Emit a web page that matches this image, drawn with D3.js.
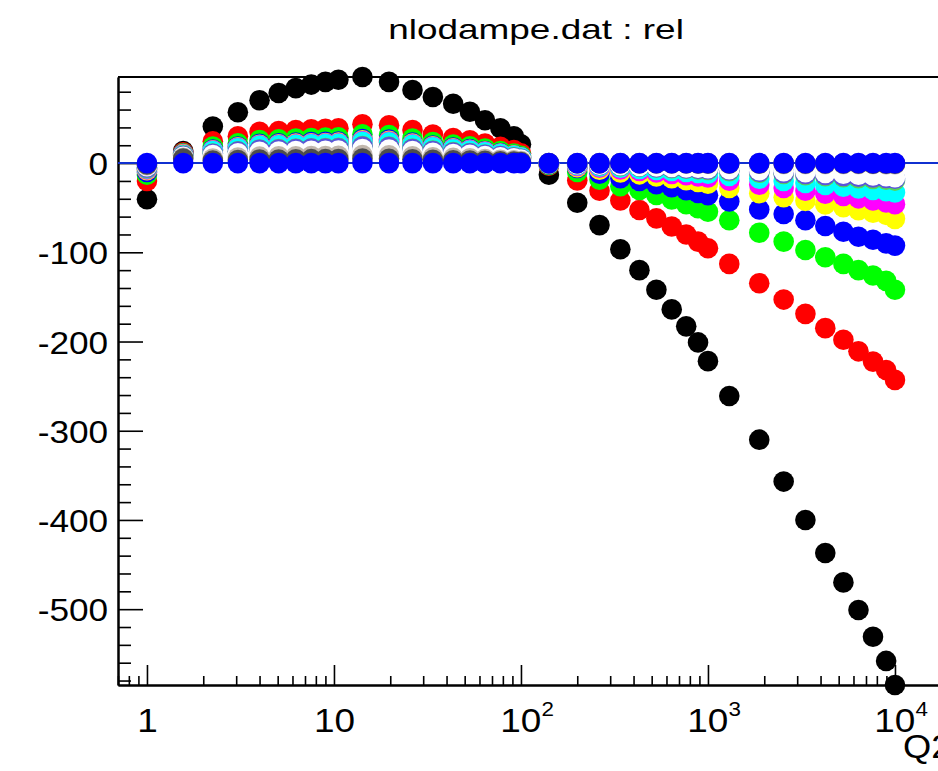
<!DOCTYPE html>
<html><head><meta charset="utf-8">
<script src="https://cdn.jsdelivr.net/npm/d3@7"></script>
<style>html,body{margin:0;padding:0;background:#fff;overflow:hidden}</style>
</head><body><svg id="c" width="938" height="771"></svg>
<script>
// ---- data ----
const q2 = [1, 1.5625, 2.25, 3.0625, 4, 5.0625, 6.25, 7.5625, 9, 10.5625,
  14.2, 19.7, 26.3, 33.8, 43.4, 53.3, 64.2, 77.6, 91.7, 100,
  141, 200, 263, 340, 430, 530, 640, 765, 885, 1000,
  1300, 1880, 2540, 3320, 4240, 5300, 6380, 7630, 8970, 10000];

const s1 = [-40.5, 13.5, 41, 57, 70.5, 78.5, 84, 88, 91, 93.5,
  96.5, 91, 82, 74, 66.5, 57.5, 48, 39, 30, 21,
  -13, -44.5, -69.5, -96.5, -120, -142, -164, -183, -201, -222,
  -261, -310, -357, -400, -437, -470, -501, -531, -558, -585];
const s2 = [-20, 12, 24.5, 30, 35, 36, 37, 38, 38.5, 39,
  43.5, 42.4, 37, 32, 28, 25.5, 22, 18.3, 14.6, 11,
  -3, -19.5, -31, -42, -52.6, -62, -71, -80, -88, -95.5,
  -113, -134.7, -153, -169, -185, -198, -211, -222.5, -232, -243];
const s3 = [-13, 11, 18.5, 22.2, 25.9, 26.6, 27.4, 28.1, 28.5, 28.9,
  32.2, 31.4, 27.4, 23.7, 20.7, 18.9, 16.3, 13.5, 10.8, 8.1,
  -2, -10, -18.5, -26, -30.2, -35.7, -40.8, -46, -50.6, -54.5,
  -64, -78, -88, -97.4, -105.6, -113, -120, -126, -132, -142];
const s4 = [-10, 10.5, 15.2, 18.6, 21.7, 22.3, 22.9, 23.6, 23.9, 24.2,
  27, 26.3, 22.9, 19.8, 17.4, 15.8, 13.6, 11.3, 9.1, 6.8,
  -1.5, -5.5, -12, -17, -20, -23.6, -27, -30.4, -33.4, -36,
  -43, -52, -57, -64, -70.5, -77, -82.5, -86, -90, -92.5];
const s5 = [-8, 10, 14.4, 17.6, 20.6, 21.2, 21.8, 22.3, 22.6, 22.9,
  25.5, 24.9, 21.8, 18.8, 16.5, 15, 12.9, 10.8, 8.6, 6.5,
  -1, -4.5, -7.5, -10.5, -12.6, -14.9, -17, -19.2, -21.1, -23,
  -28, -33.7, -38.3, -42.3, -46.3, -49.5, -52.8, -55.6, -58, -62.5];
const s6 = [-7, 9.5, 14, 17.1, 20, 20.6, 21.1, 21.7, 22, 22.3,
  24.8, 24.2, 21.1, 18.3, 16, 14.6, 12.6, 10.5, 8.3, 6.3,
  -0.8, -3.3, -5.3, -7.1, -8.9, -10.5, -12.1, -13.6, -15, -16.2,
  -19.8, -24.2, -27.9, -31, -34.2, -36.8, -39.5, -41.9, -44, -46];
const s7 = [-6, 9, 13.5, 16.6, 19.4, 19.9, 20.5, 21, 21.3, 21.6,
  24, 23.4, 20.5, 17.7, 15.5, 14.1, 12.2, 10.1, 8.1, 6.1,
  -0.6, -2.4, -3.9, -5.2, -6.6, -7.8, -8.9, -10, -11, -12,
  -14.5, -17.5, -20, -22.3, -24.6, -26.5, -28.5, -30, -31.5, -33];
const s8 = [-5.5, 8.5, 10.7, 13.1, 15.3, 15.8, 16.2, 16.6, 16.9, 17.1,
  19, 18.6, 16.2, 14, 12.3, 11.2, 9.6, 8, 6.4, 4.8,
  -0.4, -1.6, -2.5, -3.4, -4.2, -5, -5.7, -6.4, -7, -7.6,
  -9, -10.8, -12.2, -13.5, -14.8, -15.8, -16.9, -17.8, -18.6, -19.6];
const s9 = [-5, 8, 10.4, 12.8, 14.9, 15.3, 15.8, 16.2, 16.4, 16.6,
  18.5, 18.1, 15.8, 13.6, 11.9, 10.9, 9.4, 7.8, 6.2, 4.7,
  -0.3, -1.4, -2.2, -3, -3.8, -4.5, -5.1, -5.8, -6.3, -6.9,
  -8.1, -9.7, -11, -12.2, -13.3, -14.3, -15.2, -16, -16.7, -17.5];
const s10 = [-3.5, 7, 8.9, 10.9, 12.7, 13, 13.4, 13.8, 13.9, 14.1,
  15.7, 15.3, 13.4, 11.6, 10.1, 9.2, 8, 6.6, 5.3, 4,
  -0.2, -1.2, -1.9, -2.5, -3.2, -3.7, -4.3, -4.8, -5.3, -5.7,
  -6.8, -8.1, -9.2, -10.1, -11.1, -12, -12.9, -13.8, -14.8, -15.8];
const s11 = [-2.5, 6, 5.1, 6.2, 7.2, 7.5, 7.7, 7.9, 8, 8.1,
  9, 8.8, 7.7, 6.6, 5.8, 5.3, 4.6, 3.8, 3, 2.3,
  -0.1, -0.2, -0.2, -0.3, -0.3, -0.4, -0.4, -0.5, -0.5, -0.6,
  -0.7, -0.8, -0.9, -0.9, -1, -1, -1.1, -1.1, -1.2, -1.2];
const s12 = [-1.5, 5, 2.8, 3.5, 4, 4.1, 4.3, 4.4, 4.4, 4.5,
  5, 4.9, 4.3, 3.7, 3.2, 2.9, 2.5, 2.1, 1.7, 1.3,
  0, -0.1, -0.1, -0.1, -0.2, -0.2, -0.2, -0.2, -0.3, -0.3,
  -0.3, -0.4, -0.4, -0.4, -0.5, -0.5, -0.5, -0.6, -0.6, -0.6];
const sRef = [0, 0, 0, 0, 0, 0, 0, 0, 0, 0,
  0, 0, 0, 0, 0, 0, 0, 0, 0, 0,
  0, 0, 0, 0, 0, 0, 0, 0, 0, 0,
  0, 0, 0, 0, 0, 0, 0, 0, 0, 0];

const seriesList = [s1, s2, s3, s4, s5, s6, s7, s8, s9, s10, s11, s12, sRef];
const seriesColors = ["#000000", "#ff0000", "#00ff00", "#0000ff", "#ffff00", "#ff00ff",
  "#00ffff", "#59d454", "#5954d9", "#fefefe", "#c0b6ac", "#4d4d4d", "#0000ff"];

const yMajorTicks = [-500, -400, -300, -200, -100, 0];
const xMajorTicks = [1, 10, 100, 1000, 10000];
const xTickBase = ["1", "10", "10", "10", "10"];
const xTickExp = ["", "", "2", "3", "4"];
const titleText = "nlodampe.dat : rel";
const xTitle = "Q2";

// ---- drawing ----
const FONT = "'Liberation Sans', Arial, Helvetica, sans-serif";
const svg = d3.select("#c");
const x = d3.scaleLog().domain([0.7, 18000]).range([118, 942.7]);
const y = d3.scaleLinear().domain([-585, 96.5]).range([685, 77]);

const yMinor = d3.range(-580, 81, 20).filter(v => v % 100 !== 0);
const xMinor = [];
for (let e = -1; e <= 4; e++) for (let m = 2; m <= 9; m++) {
  const v = m * Math.pow(10, e);
  if (v >= 0.7 && v <= 18000) xMinor.push(v);
}

function styleAxis(g) {
  g.selectAll("path.domain").attr("stroke", "#000").attr("stroke-width", 2);
  g.selectAll(".tick line").attr("stroke", "#000").attr("stroke-width", 1.6);
}

// frame top & right
svg.append("line").attr("x1", x(0.7)).attr("x2", x(18000)).attr("y1", y(96.5)).attr("y2", y(96.5))
  .attr("stroke", "#000").attr("stroke-width", 2);
svg.append("line").attr("x1", x(18000)).attr("x2", x(18000)).attr("y1", y(96.5)).attr("y2", y(-585))
  .attr("stroke", "#000").attr("stroke-width", 2);

// y axis
svg.append("g").attr("transform", `translate(${x(0.7)},0)`)
  .call(d3.axisLeft(y).tickValues(yMinor).tickSizeInner(-13).tickSizeOuter(0).tickFormat(""))
  .call(styleAxis);
const gy = svg.append("g").attr("transform", `translate(${x(0.7)},0)`)
  .call(d3.axisLeft(y).tickValues(yMajorTicks).tickSizeInner(-25).tickSizeOuter(0).tickPadding(9)
    .tickFormat(d => String(d)))
  .call(styleAxis);
gy.selectAll("text").attr("font-family", FONT).attr("font-size", 32).attr("fill", "#000")
  .attr("dy", "0.36em").attr("transform", "scale(1.1,1)");

// x axis
svg.append("g").attr("transform", `translate(0,${y(-585)})`)
  .call(d3.axisBottom(x).tickValues(xMinor).tickSizeInner(-9).tickSizeOuter(0).tickFormat(""))
  .call(styleAxis);
const gx = svg.append("g").attr("transform", `translate(0,${y(-585)})`)
  .call(d3.axisBottom(x).tickValues(xMajorTicks).tickSizeInner(-20).tickSizeOuter(0).tickFormat(""))
  .call(styleAxis);
gx.selectAll(".tick").each(function (d, i) {
  const t = d3.select(this).append("text")
    .attr("y", 47).attr("dy", 0).attr("text-anchor", "middle")
    .attr("font-family", FONT).attr("font-size", 33).attr("fill", "#000")
    .attr("transform", "scale(1.12,1)");
  t.append("tspan").text(xTickBase[i]);
  if (xTickExp[i]) t.append("tspan").attr("font-size", 20).attr("dy", -16).text(xTickExp[i]);
  if (xTickExp[i]) t.attr("x", 5);
});

// axis title
svg.append("text").attr("transform", "translate(903,758) scale(1.1,1)").attr("font-family", FONT)
  .attr("font-size", 33).attr("fill", "#000").text(xTitle);

// title
svg.append("text").attr("transform", "translate(536,39) scale(1.32,1)")
  .attr("text-anchor", "middle").attr("font-family", FONT).attr("font-size", 28)
  .attr("fill", "#000").text(titleText);

// reference line at 0
svg.append("line").attr("x1", x(0.7)).attr("x2", 938).attr("y1", y(0)).attr("y2", y(0))
  .attr("stroke", "#1030d0").attr("stroke-width", 2);

// markers
seriesList.forEach((vals, k) => {
  svg.append("g").selectAll("circle").data(vals.map((v, i) => [q2[i], v])).join("circle")
    .attr("cx", d => x(d[0])).attr("cy", d => y(d[1])).attr("r", 10.3)
    .attr("fill", seriesColors[k]);
});
</script></body></html>
